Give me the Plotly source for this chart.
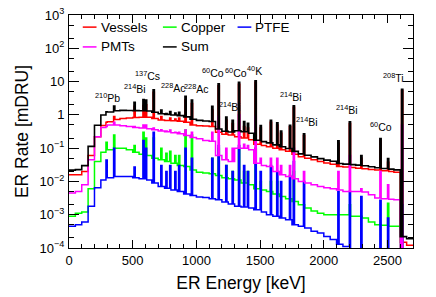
import numpy as np
import plotly.graph_objects as go

# ---------------- data ----------------
BIN = 10                       # keV per histogram bin
block_edges = list(range(0, 2750, 50))   # continuum given per 50 keV block (54 blocks)

vessels_cont = [0.016, 0.016, 0.02, 0.06, 0.22, 0.48, 0.62, 0.72, 0.78, 0.8,
                0.83, 0.85, 0.85, 0.78, 0.7, 0.68, 0.66, 0.64, 0.6, 0.5,
                0.47, 0.46, 0.45, 0.3, 0.26, 0.25, 0.22, 0.2, 0.18, 0.13,
                0.12, 0.11, 0.1, 0.09, 0.08, 0.065, 0.055, 0.05, 0.045, 0.04,
                0.036, 0.033, 0.028, 0.027, 0.026, 0.025, 0.024, 0.023, 0.022, 0.021,
                0.02, 0.019, 0.00015, 0.00012]
copper_cont = [0.0009, 0.0011, 0.0012, 0.006, 0.04, 0.075, 0.09, 0.1, 0.1, 0.09,
               0.075, 0.065, 0.06, 0.05, 0.045, 0.04, 0.035, 0.03, 0.028, 0.022,
               0.019, 0.018, 0.017, 0.015, 0.013, 0.012, 0.011, 0.009, 0.008, 0.006,
               0.0055, 0.005, 0.0042, 0.0035, 0.003, 0.0025, 0.002, 0.0016, 0.0013, 0.0011,
               0.001, 0.001, 0.001, 0.001, 0.0009, 0.0009, 0.0008, 0.0006, 0.0005, 0.00048,
               0.00045, 0.00045, 0.00001, 0.00001]
ptfe_cont = [0.00045, 0.0005, 0.0006, 0.0018, 0.0065, 0.011, 0.013, 0.014, 0.014, 0.014,
             0.013, 0.012, 0.011, 0.009, 0.007, 0.0062, 0.0055, 0.005, 0.0042, 0.0038,
             0.0034, 0.0033, 0.003, 0.0028, 0.0024, 0.0021, 0.0018, 0.0017, 0.0016, 0.0014,
             0.0012, 0.001, 0.0009, 0.0008, 0.0007, 0.0005, 0.00045, 0.0004, 0.00032, 0.00028,
             0.00022, 0.00018, 0.00013, 0.00011, 0.00007, 0.00006, 0.00005, 0.00005, 0.00005, 0.00005,
             0.00005, 0.00005, 0.00001, 0.00001]
pmt_cont = [0.0045, 0.005, 0.008, 0.045, 0.22, 0.42, 0.5, 0.5, 0.47, 0.45,
            0.42, 0.4, 0.38, 0.36, 0.33, 0.31, 0.29, 0.27, 0.24, 0.21,
            0.19, 0.17, 0.16, 0.06, 0.045, 0.04, 0.1, 0.1, 0.09, 0.035,
            0.03, 0.028, 0.02, 0.016, 0.014, 0.012, 0.01, 0.009, 0.008, 0.007,
            0.0065, 0.006, 0.0055, 0.005, 0.005, 0.005, 0.0048, 0.004, 0.0032, 0.003,
            0.0029, 0.0028, 0.00005, 0.00005]

# gamma lines (keV) and the bin content of each source at that line (0 = no line)
peak_energies = [295, 352, 511, 583, 609, 661, 727, 768, 795, 835, 860, 911, 969, 1120, 1173,
                 1238, 1281, 1332, 1377, 1408, 1461, 1509, 1588, 1630, 1661, 1730, 1764, 1847,
                 2118, 2204, 2293, 2448, 2505, 2615]
vessels_peaks = [0.6, 0.9, 1.8, 1.9, 2.0, 4.8, 0.9, 0.65, 0.8, 0.75, 0.8, 2.8, 2.2, 1.4, 7.5,
                 0.7, 0.55, 8.3, 0.45, 0.4, 9.5, 0.4, 0.6, 0.5, 0.28, 0.44, 1.7, 0.24,
                 0.14, 0.55, 0.05, 0.17, 0.038, 5.4]
copper_peaks = [0.15, 0.25, 0.12, 0.3, 0.2, 0.2, 0.1, 0.07, 0.08, 0.06, 0.06, 0.35, 0.25, 0.05, 0.1,
                0.03, 0.02, 0.1, 0.02, 0.02, 0.1, 0.01, 0.01, 0.01, 0, 0, 0.02, 0,
                0, 0.002, 0, 0, 0.0022, 0.002]
ptfe_peaks = [0.044, 0.1, 0.027, 0.17, 0.1, 0.3, 0.03, 0.02, 0.03, 0.02, 0.03, 0.1, 0.05, 0.05, 0.12,
              0.03, 0.02, 0.12, 0.03, 0.02, 0.1, 0.02, 0.03, 0.02, 0.01, 0.015, 0.04, 0.01,
              0.005, 0.005, 0.0035, 0.0027, 0.0008, 0.002]
pmt_peaks = [0.45, 0.6, 0.45, 0.5, 0.5, 0.4, 0.36, 0.33, 0.35, 0.3, 0.3, 0.35, 0.3, 0.3, 0.9,
             0.1, 0.1, 1.0, 0.13, 0.12, 0.9, 0.05, 0.05, 0.05, 0.03, 0.03, 0.1, 0.02,
             0.02, 0.06, 0.006, 0.02, 0.008, 0.5]

labels_text = ["<sup>210</sup>Pb", "<sup>214</sup>Bi", "<sup>137</sup>Cs", "<sup>228</sup>Ac",
               "<sup>228</sup>Ac", "<sup>60</sup>Co", "<sup>60</sup>Co", "<sup>40</sup>K",
               "<sup>214</sup>Bi", "<sup>214</sup>Bi", "<sup>214</sup>Bi", "<sup>214</sup>Bi",
               "<sup>60</sup>Co", "<sup>208</sup>Ti"]
labels_E = [304, 520, 614, 822, 1003, 1129, 1312, 1455, 1262, 1742, 1871, 2185, 2449, 2547]
labels_logy = [0.535, 0.80, 1.195, 0.835, 0.79, 1.27, 1.27, 1.345, 0.264, 0.55, -0.186, 0.174, -0.336, 1.12]

# ---------------- build histograms ----------------
nbins = 2700 // BIN
edges = np.arange(0, 2700 + BIN, BIN)


def build(cont, peaks):
    vals = np.repeat(np.array(cont, dtype=float), 50 // BIN)[:nbins]
    for e, h in zip(peak_energies, peaks):
        if h > 0:
            i = int(e // BIN)
            vals[i] = max(vals[i], h)
    return vals


h_ves = build(vessels_cont, vessels_peaks)
h_cu = build(copper_cont, copper_peaks)
h_ptfe = build(ptfe_cont, ptfe_peaks)
h_pmt = build(pmt_cont, pmt_peaks)
h_sum = h_ves + h_cu + h_ptfe + h_pmt


def step_xy(vals):
    x = list(edges)
    y = list(vals) + [vals[-1]]
    return x, y


fig = go.Figure()
series = [("Vessels", h_ves, "#ff0000", 1.5), ("Copper", h_cu, "#00ff00", 1.5),
          ("PTFE", h_ptfe, "#0000ff", 1.5), ("PMTs", h_pmt, "#ff00ff", 1.5),
          ("Sum", h_sum, "black", 1.6)]
for name, vals, col, w in series:
    x, y = step_xy(vals)
    fig.add_trace(go.Scatter(x=x, y=y, mode="lines", line=dict(color=col, width=w, shape="hv"),
                             name=name, showlegend=False))

FONT = "Liberation Sans, Arial, Helvetica, sans-serif"

# manual ROOT-style legend
leg = [("Vessels", "#ff0000", 0.040, 0.948), ("Copper", "#00ff00", 0.273, 0.948),
       ("PTFE", "#0000ff", 0.49, 0.948), ("PMTs", "#ff00ff", 0.040, 0.863),
       ("Sum", "black", 0.273, 0.863)]
for name, col, lx, ly in leg:
    fig.add_shape(type="line", xref="paper", yref="paper", x0=lx, x1=lx + 0.04, y0=ly, y1=ly,
                  line=dict(color=col, width=1.5))
    fig.add_annotation(xref="paper", yref="paper", x=lx + 0.046, y=ly, text=name, showarrow=False,
                       xanchor="left", yanchor="middle", font=dict(family=FONT, size=13.5, color="black"))

for t, e, ly in zip(labels_text, labels_E, labels_logy):
    fig.add_annotation(x=e, y=ly, text=t, showarrow=False, xanchor="center", yanchor="middle",
                       font=dict(family=FONT, size=10.5, color="black"))

ytv = [1e-4, 1e-3, 1e-2, 1e-1, 1, 10, 100, 1000]
ytt = ["10<sup>−4</sup>", "10<sup>−3</sup>", "10<sup>−2</sup>", "10<sup>−1</sup>", "1", "10",
       "10<sup>2</sup>", "10<sup>3</sup>"]

# page body has an 8px default margin, so the figure is sized/offset to compensate
fig.update_layout(
    width=428, height=289,
    margin=dict(l=61, r=23, t=7, b=49, autoexpand=False),
    paper_bgcolor="white", plot_bgcolor="white",
    font=dict(family=FONT, size=13, color="black"),
    xaxis=dict(range=[0, 2700], showgrid=False, zeroline=False, showline=True, linecolor="black",
               linewidth=1, mirror="ticks", ticks="inside", ticklen=8, tickcolor="black",
               tickvals=[0, 500, 1000, 1500, 2000, 2500], automargin=False,
               ticklabeloverflow="allow",
               minor=dict(ticks="inside", ticklen=4, dtick=100, tickcolor="black", showgrid=False),
               title=dict(text="ER Energy [keV]", font=dict(size=17.5), standoff=10)),
    yaxis=dict(type="log", range=[-4, 3], showgrid=False, zeroline=False, showline=True,
               linecolor="black", linewidth=1, mirror="ticks", ticks="inside", ticklen=10,
               tickcolor="black", tickvals=ytv, ticktext=ytt, automargin=False,
               ticklabeloverflow="allow", ticklabelstandoff=1,
               minor=dict(ticks="inside", ticklen=5, tickcolor="black", showgrid=False),
               title=dict(text="ER Rate [mDRU]", font=dict(size=17.5), standoff=6)),
)

fig.write_html("out.html")
